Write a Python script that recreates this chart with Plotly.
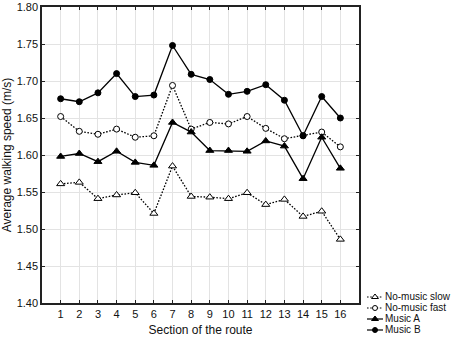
import plotly.graph_objects as go

sections = list(range(1, 17))
series_names = ["No-music slow", "No-music fast", "Music A", "Music B"]

no_music_slow = [1.561, 1.563, 1.541, 1.546, 1.549, 1.521, 1.585, 1.544,
                 1.543, 1.541, 1.549, 1.533, 1.540, 1.517, 1.524, 1.486]
no_music_fast = [1.652, 1.632, 1.628, 1.635, 1.624, 1.626, 1.694, 1.635,
                 1.644, 1.642, 1.652, 1.636, 1.622, 1.626, 1.631, 1.611]
music_a = [1.598, 1.602, 1.591, 1.605, 1.590, 1.586, 1.644, 1.631,
           1.606, 1.606, 1.605, 1.619, 1.612, 1.568, 1.624, 1.582]
music_b = [1.676, 1.672, 1.684, 1.710, 1.679, 1.681, 1.748, 1.709,
           1.702, 1.682, 1.686, 1.695, 1.674, 1.626, 1.679, 1.650]

x_tick_labels = [str(s) for s in sections]
y_ticks = [1.40, 1.45, 1.50, 1.55, 1.60, 1.65, 1.70, 1.75, 1.80]

all_series = [no_music_slow, no_music_fast, music_a, music_b]
DOT = "1.6px,1.6px"
styles = [
    dict(dash=DOT, symbol="triangle-up-open", size=7),
    dict(dash=DOT, symbol="circle-open", size=6),
    dict(dash="solid", symbol="triangle-up", size=7),
    dict(dash="solid", symbol="circle", size=6),
]

FONT = "Liberation Sans, Arial, sans-serif"
fig = go.Figure()

def marker_for(st, shrink=0):
    open_m = st["symbol"].endswith("open")
    return dict(symbol=st["symbol"].replace("-open", ""),
                size=st["size"] - shrink,
                color="white" if open_m else "black",
                line=dict(color="black", width=1))

for name, vals, st in zip(series_names, all_series, styles):
    fig.add_trace(go.Scatter(
        x=sections, y=vals, name=name, mode="lines+markers",
        line=dict(color="black", width=1.3, dash=st["dash"]),
        marker=marker_for(st),
        showlegend=False, cliponaxis=False,
    ))

# compact legend drawn on an auxiliary axis (units ~ pixels)
row_y = [7, 18, 29, 40]
for name, st, ry in zip(series_names, styles, row_y):
    fig.add_trace(go.Scatter(
        x=[5, 13, 21], y=[ry, ry, ry], mode="lines",
        line=dict(color="black", width=1.2, dash=st["dash"]),
        xaxis="x2", yaxis="y2", showlegend=False, hoverinfo="skip", cliponaxis=False,
    ))
    fig.add_trace(go.Scatter(
        x=[13], y=[ry], mode="markers", marker=marker_for(st, 1),
        xaxis="x2", yaxis="y2", showlegend=False, hoverinfo="skip", cliponaxis=False,
    ))
    fig.add_trace(go.Scatter(
        x=[23], y=[ry], mode="text", text=[name], textposition="middle right",
        textfont=dict(family=FONT, size=10, color="#111"),
        xaxis="x2", yaxis="y2", showlegend=False, hoverinfo="skip", cliponaxis=False,
    ))

W, H = 454, 338
L, R, T, B = 42, 2, 7, 2
pw, ph = W - L - R, H - T - B
main_x_dom = [0, (359 - L) / pw]
main_y_dom = [(H - B - 303) / ph, 1]
leg_x_dom = [(362 - L) / pw, 1]
leg_y_dom = [0, (H - B - 290) / ph]

axis_common = dict(
    showline=True, linecolor="#222", linewidth=1.5, mirror="ticks",
    ticks="inside", ticklen=3, tickcolor="#222", tickwidth=1,
    showgrid=True, gridcolor="#e3e3e3", gridwidth=1, zeroline=False,
    tickfont=dict(family=FONT, size=11, color="#111"),
)

fig.update_layout(
    width=W, height=H,
    margin=dict(l=L, r=R, t=T, b=B),
    paper_bgcolor="white", plot_bgcolor="white",
    font=dict(family=FONT, color="#111"),
    xaxis=dict(domain=main_x_dom, range=[0, 17], tickvals=sections, ticktext=x_tick_labels,
               title=dict(text="Section of the route", font=dict(family=FONT, size=12), standoff=7),
               automargin=False, **axis_common),
    yaxis=dict(domain=main_y_dom, range=[1.40, 1.80], tickvals=y_ticks,
               ticktext=[f"{v:.2f}" for v in y_ticks],
               title=dict(text="Average walking speed (m/s)", font=dict(family=FONT, size=12), standoff=4),
               automargin=False, **axis_common),
    xaxis2=dict(domain=leg_x_dom, range=[0, 90], visible=False, anchor="y2", fixedrange=True),
    yaxis2=dict(domain=leg_y_dom, range=[46, 0], visible=False, anchor="x2", fixedrange=True),
    showlegend=False,
)

fig.write_html("out.html", config={"displayModeBar": False},
               post_script="document.body.style.margin='0px';document.body.style.overflow='hidden';")
